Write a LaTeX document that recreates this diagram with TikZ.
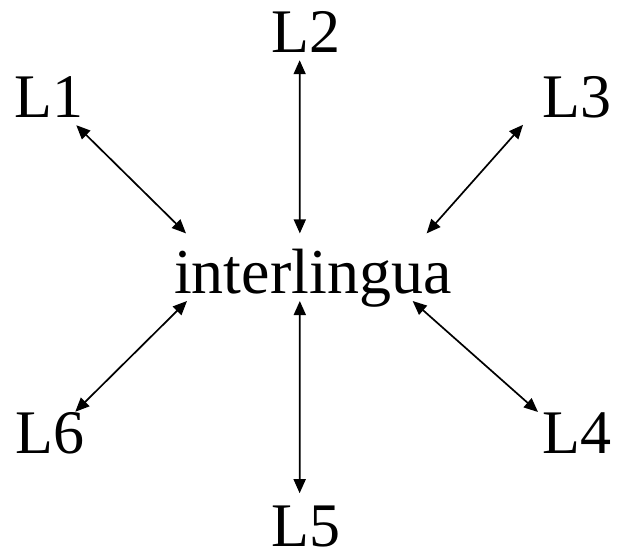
\documentclass[tikz,border=0pt]{standalone}
\usepackage{fontspec}
\setmainfont{Liberation Serif}
\usetikzlibrary{arrows.meta,positioning}

\begin{document}
\begin{tikzpicture}[x=1pt,y=-1pt,
  font=\fontsize{62}{62}\selectfont,
  lang/.style={inner sep=0pt,anchor=base west},
  link/.style={{Triangle[length=14pt,width=12pt]}-{Triangle[length=14pt,width=12pt]},line width=1.7pt}]
  \useasboundingbox (0,0) rectangle (618,553);
  \node[lang,font=\fontsize{64}{64}\selectfont] (inter) at (174,293) {interlingua};
  \node[lang] (l1) at (14,118)  {L1};
  \node[lang] (l2) at (271,53)  {L2};
  \node[lang] (l3) at (542,118) {L3};
  \node[lang] (l4) at (542,453) {L4};
  \node[lang] (l5) at (271,546) {L5};
  \node[lang] (l6) at (15,453)  {L6};
  \draw[link] ([xshift=-7pt,yshift=-7pt]l1.south east) -- ([xshift=12pt,yshift=15pt]inter.north west);
  \draw[link] ([xshift=-6pt,yshift=-7pt]l2.south) -- ([xshift=-13pt,yshift=15pt]inter.north);
  \draw[link] ([xshift=-19pt,yshift=-6pt]l3.south west) -- ([xshift=-25pt,yshift=15pt]inter.north east);
  \draw[link] ([xshift=-4pt]l4.north west) -- ([xshift=-39pt,yshift=6pt]inter.south east);
  \draw[link] ([xshift=-6pt,yshift=12pt]l5.north) -- ([xshift=-13pt,yshift=6pt]inter.south);
  \draw[link] ([xshift=-9pt]l6.north east) -- ([xshift=13pt,yshift=6pt]inter.south west);
\end{tikzpicture}
\end{document}
